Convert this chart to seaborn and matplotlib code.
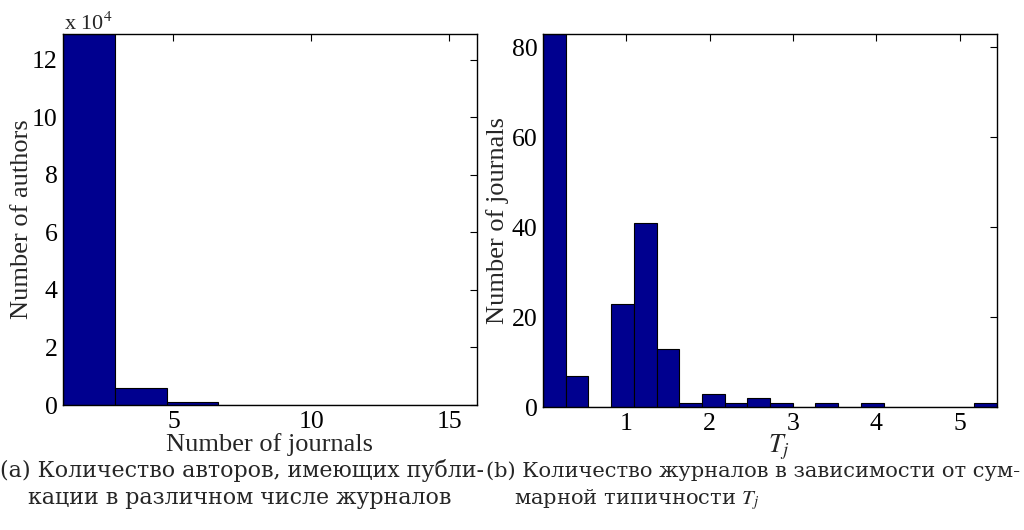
import numpy as np
import pandas as pd
import seaborn as sns
from matplotlib import pyplot as plt

# left panel: authors per number of journals (hist, 8 bins from 1 to 16)
journal_bins = [1.0, 16.0, 8]
authors_counts = [129000, 5800, 1000, 100, 40, 20, 10, 5]

# right panel: journals per summary typicality T_j (20 bins from 0 to 5.45)
tj_bins = [0.0, 5.45, 20]
journals_counts = [83, 7, 0, 23, 41, 13, 1, 3, 1, 2, 1, 0, 1, 0, 1, 0, 0, 0, 0, 1]

caption_a = ["(a) Количество авторов, имеющих публи-", "кации в различном числе журналов"]
caption_b = ["(b) Количество журналов в зависимости от сум-", "марной типичности $T_j$"]

sns.set_style("white")
plt.rcParams['font.family'] = ['Liberation Serif', 'DejaVu Serif']
plt.rcParams['mathtext.fontset'] = 'stix'

BAR = '#00008F'
W, H = 1024, 530
fig = plt.figure(figsize=(W / 100, H / 100), dpi=100)


def px_axes(x0, y0, x1, y1):
    return fig.add_axes([x0 / W, 1 - y1 / H, (x1 - x0) / W, (y1 - y0) / H])


def hist_from_counts(ax, spec, counts):
    lo, hi, n = spec
    edges = np.linspace(lo, hi, n + 1)
    df = pd.DataFrame({'x': (edges[:-1] + edges[1:]) / 2, 'w': counts})
    sns.histplot(data=df, x='x', weights='w', bins=list(edges), ax=ax, color=BAR,
                 edgecolor='black', linewidth=0.8, alpha=1)
    ax.set_xlim(lo, hi)
    ax.set_xlabel('')
    ax.set_ylabel('')
    for s in ax.spines.values():
        s.set_visible(True)
        s.set_color('black')
        s.set_linewidth(1.0)
    ax.tick_params(direction='in', top=True, right=True, length=5, width=0.8,
                   labelsize=18.5, colors='black', pad=4)


ax1 = px_axes(63, 34, 477, 405)
hist_from_counts(ax1, journal_bins, authors_counts)
ax1.set_ylim(0, 129000)
ax1.set_xticks([5, 10, 15])
ax1.set_yticks(np.arange(0, 130000, 20000))
ax1.set_yticklabels([str(v // 10000) for v in range(0, 130000, 20000)])
fig.text(64 / W, 1 - 30 / H, r'x 10$^{4}$', fontsize=16, ha='left', va='baseline')
fig.text(269 / W, 1 - 451 / H, 'Number of journals', fontsize=19, ha='center', va='baseline')
fig.text(22 / W, 1 - 219 / H, 'Number of authors', fontsize=19, rotation=90,
         ha='center', va='center')

ax2 = px_axes(543, 34, 997, 407)
hist_from_counts(ax2, tj_bins, journals_counts)
ax2.set_ylim(0, 83)
ax2.set_xticks([1, 2, 3, 4, 5])
ax2.set_yticks([0, 20, 40, 60, 80])
fig.text(779 / W, 1 - 452 / H, '$T_j$', fontsize=19, ha='center', va='baseline')
fig.text(498 / W, 1 - 221 / H, 'Number of journals', fontsize=19, rotation=90,
         ha='center', va='center')

# captions: first line of each is fitted to the width it takes in the reference
renderer = fig.canvas.get_renderer()
for lines, x0, target in [(caption_a, 0, 485), (caption_b, 486, 535)]:
    t1 = fig.text(x0 / W, 1 - 477 / H, lines[0], fontsize=16, ha='left',
                  va='baseline', family=['DejaVu Serif'])
    size = 16 * target / t1.get_window_extent(renderer).width
    t1.set_fontsize(size)
    fig.text((x0 + 28) / W, 1 - 504 / H, lines[1], fontsize=size, ha='left',
             va='baseline', family=['DejaVu Serif'])

plt.savefig('out.png', dpi=100)
plt.close()
